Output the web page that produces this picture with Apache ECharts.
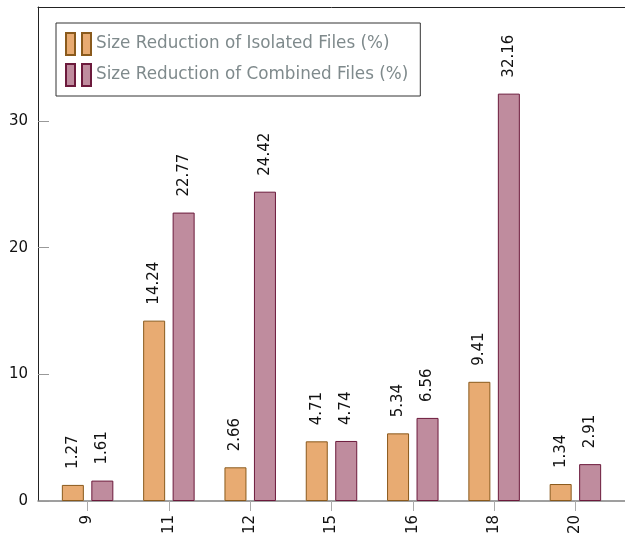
<!DOCTYPE html>
<html lang="en">
<head>
  <meta charset="UTF-8">
  <title>Size Reduction</title>
  <style>
    html,body{margin:0;padding:0;background:#fff;}
    #main{width:625px;height:542px;}
  </style>
</head>
<body>
  <div id="main"></div>
  <script src="https://cdn.jsdelivr.net/npm/echarts@6/dist/echarts.min.js"></script>
  <script>
    const categories=['9','11','12','15','16','18','20'];
    const isolated=[1.27,14.24,2.66,4.71,5.34,9.41,1.34];
    const combined=[1.61,22.77,24.42,4.74,6.56,32.16,2.91];
    const yTicks=[0,10,20,30];
    const seriesNames=['Size Reduction of Isolated Files (%)','Size Reduction of Combined Files (%)'];

    const chart=echarts.init(document.getElementById('main'));
    const font='DejaVu Sans';
    const idx=categories.map((c,i)=>i);

    // bars sit on a value axis so the x range can be padded like pgfplots
    function barSeries(name,vals,fill,stroke){
      return {
        name:name,
        type:'bar',
        barWidth:22,
        barGap:'34%',
        data:vals.map((v,i)=>[i,v]),
        itemStyle:{color:fill,borderColor:stroke,borderWidth:1},
        label:{
          show:true,
          position:'top',
          rotate:90,
          align:'left',
          verticalAlign:'middle',
          distance:16,
          fontFamily:font,
          fontSize:15,
          color:'#111',
          formatter:p=>p.value[1].toFixed(2)
        }
      };
    }

    const option={
      animation:false,
      grid:{left:38,top:7,right:-5,bottom:41},
      legend:{
        orient:'vertical',
        left:56,
        top:23,
        padding:[9,12,9,9],
        itemWidth:25,
        itemHeight:22,
        itemGap:7,
        icon:'path://M0,0h9v22h-9z M16,0h9v22h-9z',
        backgroundColor:'#fff',
        borderColor:'#333',
        borderWidth:1,
        textStyle:{fontFamily:font,fontSize:16.8,color:'#7f8a8c'},
        data:seriesNames
      },
      xAxis:[
        {
          type:'value',
          min:-0.61,
          max:6.61,
          splitLine:{show:false},
          axisLine:{show:true,onZero:false,lineStyle:{color:'#808080',width:1.5}},
          axisTick:{show:true,customValues:idx,length:10,lineStyle:{color:'#aaa'}},
          axisLabel:{
            customValues:idx,
            rotate:90,
            margin:14,
            fontFamily:font,
            fontSize:15,
            color:'#111',
            formatter:v=>categories[Math.round(v)]
          }
        },
        {
          type:'value',
          position:'top',
          min:-0.61,
          max:6.61,
          splitLine:{show:false},
          axisLine:{show:true,onZero:false,lineStyle:{color:'#222',width:1}},
          axisTick:{show:false},
          axisLabel:{show:false}
        }
      ],
      yAxis:{
        type:'value',
        min:0,
        max:39,
        splitLine:{show:false},
        axisLine:{show:true,onZero:false,lineStyle:{color:'#222',width:1}},
        axisTick:{show:true,inside:true,customValues:yTicks,length:11,lineStyle:{color:'#999'}},
        axisLabel:{customValues:yTicks,margin:10,fontFamily:font,fontSize:15,color:'#111'}
      },
      series:[
        barSeries(seriesNames[0],isolated,'#e8ab72','#8a5a1c'),
        barSeries(seriesNames[1],combined,'#bf8c9e','#6c1a3c')
      ]
    };
    chart.setOption(option);
  </script>
</body>
</html>
